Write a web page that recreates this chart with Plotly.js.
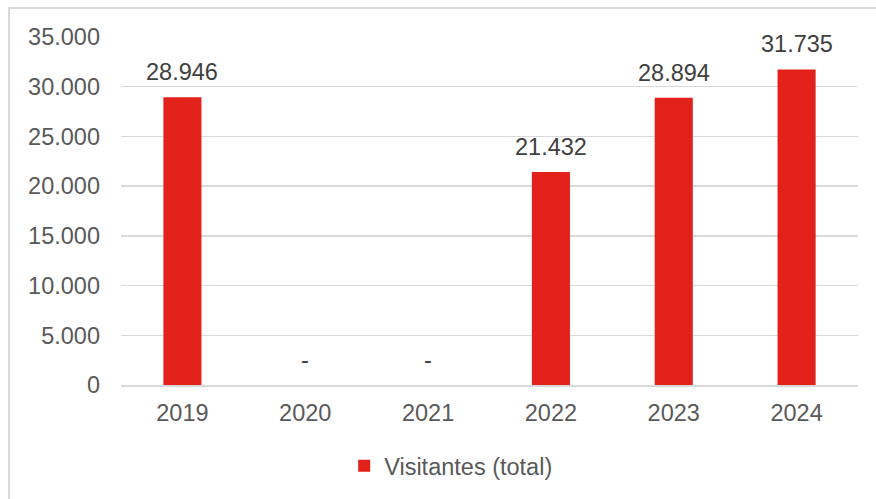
<!DOCTYPE html>
<html>
<head>
<meta charset="utf-8">
<script src="https://cdn.plot.ly/plotly-3.0.1.min.js"></script>
<style>
html,body{margin:0;padding:0;background:#fff;}
#wrap{position:relative;width:876px;height:499px;overflow:hidden;}
#frame{position:absolute;left:8px;top:7px;width:900px;height:520px;border-left:2px solid #d9d9d9;border-top:2px solid #d9d9d9;box-sizing:border-box;pointer-events:none;z-index:5;}
#chart{position:absolute;left:0;top:0;width:876px;height:499px;}
</style>
</head>
<body>
<div id="wrap"><div id="chart"></div><div id="frame"></div></div>
<script>
const years = ['2019','2020','2021','2022','2023','2024'];
const visitors = [28946, 0, 0, 21432, 28894, 31735];
const seriesName = 'Visitantes (total)';

function fmt(v){
  if(v === 0) return '-';
  return String(v).replace(/\B(?=(\d{3})+(?!\d))/g, '.');
}

const FONT = 'Liberation Sans, Arial, sans-serif';
const FS = 23.5;

const annotations = years.map((y,i)=>({
  x: i, y: visitors[i], xref:'x', yref:'y',
  text: fmt(visitors[i]), showarrow:false,
  yanchor:'middle', yshift:25,
  font:{family:FONT, size:FS, color:'#404040'}
}));

const trace = {
  type:'bar', x:years, y:visitors, name:seriesName,
  marker:{color:'#e3211b'}, showlegend:true, hoverinfo:'none'
};

const layout = {
  width:876, height:499,
  margin:{l:121, r:18, t:37, b:113},
  paper_bgcolor:'#fff', plot_bgcolor:'#fff',
  separators:',.',
  bargap:0.69,
  font:{family:FONT, size:FS, color:'#595959'},
  xaxis:{type:'category', range:[-0.5,5.5], autorange:false, showgrid:false, showline:true, linecolor:'#d9d9d9', linewidth:2,
         ticks:'', tickfont:{size:FS, color:'#595959'}, ticklabelstandoff:6, fixedrange:true},
  yaxis:{range:[0,35000], autorange:false, dtick:5000, tickformat:',d', showgrid:true, gridcolor:'#d9d9d9', gridwidth:1.5,
         zeroline:false, showline:false, ticks:'', ticklen:0, tickfont:{size:FS, color:'#595959'},
         ticklabelstandoff:20, automargin:false, fixedrange:true},
  showlegend:true,
  legend:{orientation:'h', x:0.448, xanchor:'center', y:-0.229, yanchor:'middle',
          font:{size:FS, color:'#595959'}, itemwidth:30},
  annotations:annotations
};

Plotly.newPlot('chart',[trace],layout,{staticPlot:true, displayModeBar:false});
</script>
</body>
</html>
